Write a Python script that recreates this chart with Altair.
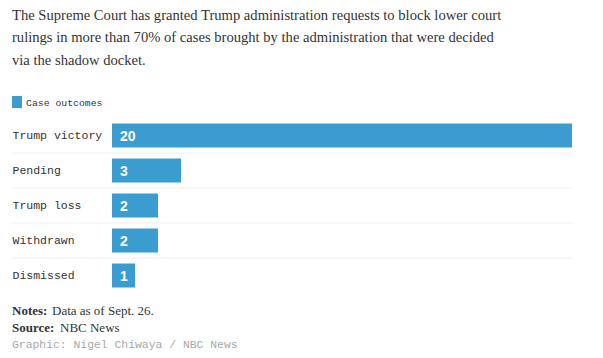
import altair as alt
import pandas as pd

categories = ["Trump victory", "Pending", "Trump loss", "Withdrawn", "Dismissed"]
values = [20, 3, 2, 2, 1]
title_lines = [
    "The Supreme Court has granted Trump administration requests to block lower court",
    "rulings in more than 70% of cases brought by the administration that were decided",
    "via the shadow docket.",
]
legend_label = "Case outcomes"
notes_label = "Notes:"
notes_text = "Data as of Sept. 26."
source_label = "Source:"
source_text = "NBC News"
credit_text = "Graphic: Nigel Chiwaya / NBC News"

BAR = "#3b9dcf"
SERIF = "Liberation Serif"
MONO = "Liberation Mono"

df = pd.DataFrame({"cat": categories, "val": values})
seps = pd.DataFrame({"cat": categories[:-1]})

y_enc = alt.Y(
    "cat:N",
    sort=categories,
    scale=alt.Scale(paddingInner=0.314, paddingOuter=0.157),
    axis=alt.Axis(
        title=None, ticks=False, domain=False, labelAlign="left", labelPadding=100,
        labelFont=MONO, labelFontSize=11.5, labelColor="#333", labelLimit=200,
    ),
)
x_enc = alt.X("val:Q", scale=alt.Scale(domain=[0, 20]), axis=None)

bars = alt.Chart(df).mark_bar(color=BAR).encode(x=x_enc, y=y_enc)

vals = alt.Chart(df).mark_text(
    align="left", baseline="middle", dx=8, dy=1, color="white",
    font="Liberation Sans", fontSize=14, fontWeight="bold",
).encode(x=alt.value(0), y=alt.Y("cat:N", sort=categories), text="val:Q")

rules = alt.Chart(seps).mark_rule(color="#f0f0f0", strokeWidth=1, yOffset=17.5).encode(
    y=alt.Y("cat:N", sort=categories), x=alt.value(-100), x2=alt.value(460)
)

def txt(text, x, y, **kw):
    return alt.Chart(pd.DataFrame({"t": [text]})).mark_text(
        align="left", baseline="alphabetic", **kw
    ).encode(x=alt.value(x), y=alt.value(y), text="t:N")

layers = [rules, bars, vals]
for i, line in enumerate(title_lines):
    layers.append(txt(line, -100, -98.5 + i * 22.8, font=SERIF, fontSize=14.6, color="#333"))

legend_sq = alt.Chart(pd.DataFrame({"a": [0]})).mark_rect(color=BAR).encode(
    x=alt.value(-100), x2=alt.value(-90), y=alt.value(-22), y2=alt.value(-10)
)
layers.append(legend_sq)
layers.append(txt(legend_label, -86, -12, font=MONO, fontSize=9.8, color="#333"))

layers.append(txt(notes_label, -100, 197, font=SERIF, fontSize=13, fontWeight="bold", color="#333"))
layers.append(txt(notes_text, -60, 197, font=SERIF, fontSize=13, color="#333"))
layers.append(txt(source_label, -100, 213.7, font=SERIF, fontSize=13, fontWeight="bold", color="#333"))
layers.append(txt(source_text, -52, 213.7, font=SERIF, fontSize=13, color="#333"))
layers.append(txt(credit_text, -100, 229.5, font=MONO, fontSize=11.4, color="#a8a8a8"))

chart = alt.layer(*layers).properties(
    width=460, height=175,
    autosize=alt.AutoSizeParams(type="none"),
    padding={"left": 104, "top": 110, "right": 20, "bottom": 57},
).configure_view(stroke=None)

chart.save("out.html", embed_options={"renderer": "svg", "actions": False})
